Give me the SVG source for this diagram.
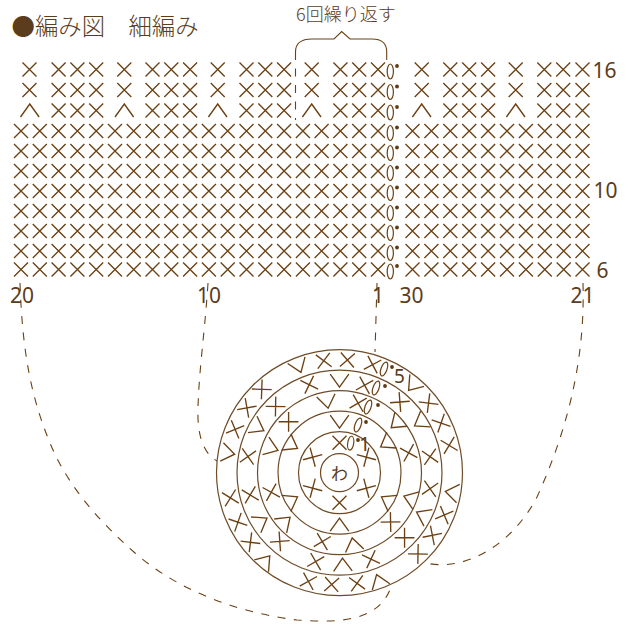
<svg xmlns="http://www.w3.org/2000/svg" xmlns:xlink="http://www.w3.org/1999/xlink" width="627" height="625" viewBox="0 0 627 625">
<style>
.s{fill:none;stroke:#6b4114;stroke-width:1.35}
.ring{fill:none;stroke:#6f4c28;stroke-width:1.2}
.ch{fill:none;stroke:#6b4114;stroke-width:1.2}
.dot{fill:#5f3a12}
.dash{fill:none;stroke:#6b4114;stroke-width:1.1;stroke-dasharray:8 8.5}
.solid{fill:none;stroke:#6b4114;stroke-width:1.1}
.t{fill:#5b3c1c;font-family:"Noto Sans","Noto Sans CJK JP",sans-serif}
.j{fill:#5b3c1c;font-family:"Noto Sans CJK JP","Noto Sans",sans-serif;font-weight:300}
</style>
<defs>
<path id="x" class="s" d="M-7,-7L7,7M7,-7L-7,7"/>
<path id="v" class="s" d="M-9.3,-6.5L0,6.5L9.3,-6.5"/>
<g id="chain"><ellipse class="ch" cx="390.3" cy="2" rx="3.1" ry="7.5"/><circle class="dot" cx="397" cy="-3.5" r="1.9"/></g>
<g id="full">
<use href="#x" x="21"/><use href="#x" x="39.8"/><use href="#x" x="58.6"/><use href="#x" x="77.4"/><use href="#x" x="96.2"/><use href="#x" x="115"/><use href="#x" x="133.7"/><use href="#x" x="152.5"/><use href="#x" x="171.3"/><use href="#x" x="190.1"/><use href="#x" x="208.9"/><use href="#x" x="227.7"/><use href="#x" x="246.5"/><use href="#x" x="265.3"/><use href="#x" x="284.1"/><use href="#x" x="302.9"/><use href="#x" x="321.6"/><use href="#x" x="340.4"/><use href="#x" x="359.2"/><use href="#x" x="378"/>
<use href="#chain"/>
<use href="#x" x="412.5"/><use href="#x" x="431.4"/><use href="#x" x="450.3"/><use href="#x" x="469.2"/><use href="#x" x="488.1"/><use href="#x" x="507"/><use href="#x" x="525.9"/><use href="#x" x="544.8"/><use href="#x" x="563.7"/><use href="#x" x="582.5"/>
</g>
<g id="triplets">
<use href="#x" x="58.6"/><use href="#x" x="77.4"/><use href="#x" x="96.2"/><use href="#x" x="152.5"/><use href="#x" x="171.3"/><use href="#x" x="190.1"/><use href="#x" x="246.5"/><use href="#x" x="265.3"/><use href="#x" x="284.1"/><use href="#x" x="340.4"/><use href="#x" x="359.2"/><use href="#x" x="378"/>
<use href="#chain"/>
<use href="#x" x="450.3"/><use href="#x" x="469.2"/><use href="#x" x="488.1"/><use href="#x" x="544.3"/><use href="#x" x="563.2"/><use href="#x" x="582.5"/>
</g>
<g id="singles"><use href="#x" x="29.5"/><use href="#x" x="124.3"/><use href="#x" x="217.7"/><use href="#x" x="311.7"/><use href="#x" x="421.7"/><use href="#x" x="515.7"/></g>
<g id="dec"><use href="#v" transform="translate(29.8 0) rotate(180)"/><use href="#v" transform="translate(124.3 0) rotate(180)"/><use href="#v" transform="translate(217.7 0) rotate(180)"/><use href="#v" transform="translate(311.7 0) rotate(180)"/><use href="#v" transform="translate(421.7 0) rotate(180)"/><use href="#v" transform="translate(515.7 0) rotate(180)"/></g>
</defs>

<g id="title"><text class="j" x="11.5" y="35" font-size="23.4">●編み図　細編み</text></g>
<g id="repeat-label"><text class="j" x="296" y="21" font-size="18">6回繰り返す</text></g>

<g id="connectors">
<path class="solid" d="M295.5,52C295.5,43 301,39 312,39L334,39L341.7,31.5L350,39L372,39C382,39 386.7,43 386.7,52"/>
<path class="dash" d="M295.5,52V120"/>
<path class="dash" d="M386.7,52V63"/>
<path class="dash" d="M20,283C22,340 28,390 50,443C68,487 100,522 135,553C180,592 240,613 297,620C330,622 378,625 391,587"/>
<path class="dash" d="M208,283C205,330 199,370 198,407C197,435 203,453 217,461"/>
<path class="dash" d="M377,283L375,352"/>
<path class="dash" d="M583,283C585,350 572,420 537,497C512,545 465,572 426,563"/>
</g>

<g id="chart">
<g transform="translate(0 69.5)"><use href="#singles"/><use href="#triplets"/></g>
<g transform="translate(0 90)"><use href="#singles"/><use href="#triplets"/></g>
<g transform="translate(0 110.5)"><use href="#dec"/><use href="#triplets"/></g>
<use href="#full" y="131"/><use href="#full" y="151"/><use href="#full" y="171"/><use href="#full" y="191"/><use href="#full" y="211"/><use href="#full" y="231"/><use href="#full" y="251"/><use href="#full" y="269.5"/>
</g>

<g id="chart-numbers">
<text class="t" x="592.5" y="78" font-size="21">16</text>
<text class="t" x="593.5" y="198" font-size="21">10</text>
<text class="t" x="596.5" y="278" font-size="21">6</text>
<text class="t" x="10" y="303" font-size="21">20</text>
<text class="t" x="197" y="303" font-size="21">10</text>
<text class="t" x="372" y="303" font-size="21">1</text>
<text class="t" x="399.5" y="303" font-size="21">30</text>
<text class="t" x="570.5" y="303" font-size="21">21</text>
</g>

<g id="round-chart" transform="translate(339.5 472.7)">
<circle class="ring" r="123"/><circle class="ring" r="102.5"/><circle class="ring" r="82"/><circle class="ring" r="61.5"/><circle class="ring" r="41"/><circle class="ring" r="19"/>
<text class="j" x="0" y="7" font-size="17" text-anchor="middle" style="font-weight:400">わ</text>

<g id="round-1">
<use href="#x" transform="rotate(0) translate(0 -30)"/><use href="#x" transform="rotate(60) translate(0 -31)"/><use href="#x" transform="rotate(120) translate(0 -31)"/><use href="#x" transform="rotate(180) translate(0 -30)"/><use href="#x" transform="rotate(240) translate(0 -31)"/><use href="#x" transform="rotate(300) translate(0 -31)"/>
<ellipse class="ch" rx="3" ry="7" transform="translate(11.2 -29.5) rotate(8)"/><circle class="dot" cx="18.5" cy="-32.7" r="1.9"/>
<text class="t" x="19.5" y="-21.7" font-size="20">1</text>
</g>
<g id="round-2">
<use href="#v" transform="rotate(0) translate(0 -51)"/><use href="#v" transform="rotate(58) translate(0 -55)"/><use href="#v" transform="rotate(120) translate(0 -55)"/><use href="#v" transform="rotate(180) translate(0 -52)"/><use href="#v" transform="rotate(240) translate(0 -55)"/><use href="#v" transform="rotate(300) translate(0 -55)"/>
<ellipse class="ch" rx="3" ry="7.3" transform="translate(18.5 -47.7) rotate(20)"/><circle class="dot" cx="26.5" cy="-50.7" r="1.9"/>
</g>
<g id="round-3">
<use href="#v" transform="rotate(-10) translate(0 -72)"/><use href="#x" transform="rotate(15) translate(0 -72)"/><use href="#v" transform="rotate(49) translate(0 -75)"/><use href="#x" transform="rotate(74) translate(0 -72)"/><use href="#v" transform="rotate(110) translate(0 -75)"/><use href="#x" transform="rotate(134) translate(0 -71)"/><use href="#v" transform="rotate(169) translate(0 -73)"/><use href="#x" transform="rotate(194) translate(0 -71)"/><use href="#v" transform="rotate(228) translate(0 -73)"/><use href="#x" transform="rotate(254) translate(0 -71)"/><use href="#v" transform="rotate(290) translate(0 -72)"/><use href="#x" transform="rotate(315) translate(0 -72)"/>
<ellipse class="ch" rx="3" ry="7.3" transform="translate(28.5 -65.7) rotate(20)"/><circle class="dot" cx="38.5" cy="-67.7" r="1.9"/>
</g>
<g id="round-4">
<use href="#v" transform="rotate(0) translate(0 -92)"/><use href="#x" transform="rotate(16) translate(0 -91)"/><use href="#x" transform="rotate(40.5) translate(0 -93)"/><use href="#v" transform="rotate(58) translate(0 -95)"/><use href="#x" transform="rotate(80) translate(0 -92)"/><use href="#x" transform="rotate(100) translate(0 -92)"/><use href="#v" transform="rotate(117) translate(0 -93)"/><use href="#x" transform="rotate(135) translate(0 -92)"/><use href="#x" transform="rotate(160) translate(0 -92)"/><use href="#v" transform="rotate(178) translate(0 -92)"/><use href="#x" transform="rotate(195) translate(0 -92)"/><use href="#x" transform="rotate(221) translate(0 -91)"/><use href="#v" transform="rotate(238) translate(0 -92)"/><use href="#x" transform="rotate(256) translate(0 -92)"/><use href="#x" transform="rotate(280) translate(0 -93)"/><use href="#v" transform="rotate(299) translate(0 -93)"/><use href="#x" transform="rotate(316) translate(0 -92)"/><use href="#x" transform="rotate(341) translate(0 -93)"/>
<ellipse class="ch" rx="3" ry="7.3" transform="translate(36.5 -84.7) rotate(20)"/><circle class="dot" cx="45.5" cy="-86.7" r="1.9"/>
</g>
<g id="round-5">
<use href="#v" transform="rotate(-21) translate(0 -114)"/><use href="#x" transform="rotate(-8) translate(0 -113)"/><use href="#x" transform="rotate(4) translate(0 -113)"/><use href="#x" transform="rotate(17) translate(0 -113)"/><use href="#v" transform="rotate(40) translate(0 -114)"/><use href="#x" transform="rotate(52) translate(0 -113)"/><use href="#x" transform="rotate(64) translate(0 -113)"/><use href="#x" transform="rotate(76) translate(0 -113)"/><use href="#v" transform="rotate(100) translate(0 -114)"/><use href="#x" transform="rotate(112) translate(0 -113)"/><use href="#x" transform="rotate(124) translate(0 -112)"/><use href="#x" transform="rotate(136) translate(0 -113)"/><use href="#v" transform="rotate(160) translate(0 -115)"/><use href="#x" transform="rotate(171) translate(0 -112)"/><use href="#x" transform="rotate(184) translate(0 -112)"/><use href="#x" transform="rotate(196) translate(0 -113)"/><use href="#v" transform="rotate(220) translate(0 -115)"/><use href="#x" transform="rotate(232) translate(0 -113)"/><use href="#x" transform="rotate(244) translate(0 -113)"/><use href="#x" transform="rotate(257) translate(0 -112)"/><use href="#v" transform="rotate(280) translate(0 -113)"/><use href="#x" transform="rotate(292.5) translate(0 -113)"/><use href="#x" transform="rotate(305) translate(0 -113)"/><use href="#x" transform="rotate(317) translate(0 -114)"/>
<ellipse class="ch" rx="3" ry="7.3" transform="translate(44.5 -103.7) rotate(20)"/><circle class="dot" cx="52.5" cy="-105.7" r="1.9"/>
<text class="t" x="54.5" y="-89.7" font-size="19">5</text>
</g>
</g>
</svg>
